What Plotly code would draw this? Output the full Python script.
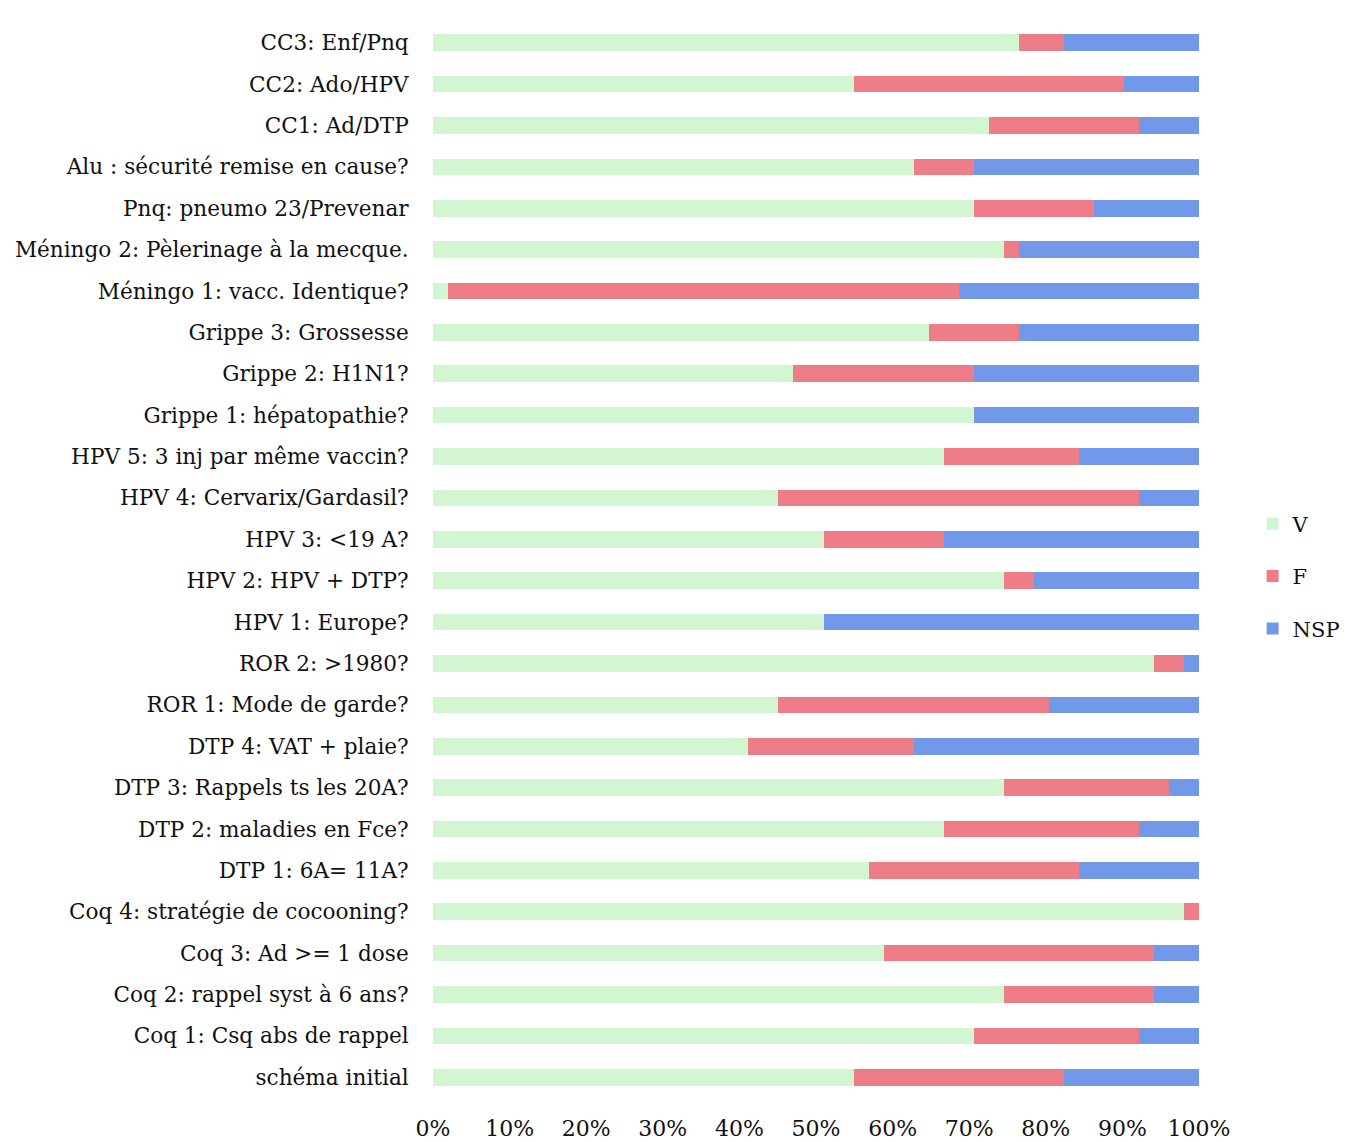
import plotly.graph_objects as go

categories = [
    "schéma initial",
    "Coq 1: Csq abs de rappel",
    "Coq 2: rappel syst à 6 ans?",
    "Coq 3: Ad >= 1 dose",
    "Coq 4: stratégie de cocooning?",
    "DTP 1: 6A= 11A?",
    "DTP 2: maladies en Fce?",
    "DTP 3: Rappels ts les 20A?",
    "DTP 4: VAT + plaie?",
    "ROR 1: Mode de garde?",
    "ROR 2: >1980?",
    "HPV 1: Europe?",
    "HPV 2: HPV + DTP?",
    "HPV 3: <19 A?",
    "HPV 4: Cervarix/Gardasil?",
    "HPV 5: 3 inj par même vaccin?",
    "Grippe 1: hépatopathie?",
    "Grippe 2: H1N1?",
    "Grippe 3: Grossesse",
    "Méningo 1: vacc. Identique?",
    "Méningo 2: Pèlerinage à la mecque.",
    "Pnq: pneumo 23/Prevenar",
    "Alu : sécurité remise en cause?",
    "CC1: Ad/DTP",
    "CC2: Ado/HPV",
    "CC3: Enf/Pnq",
]

# counts of answers (51 respondents)
v_counts = [28, 36, 38, 30, 50, 29, 34, 38, 21, 23, 48, 26, 38, 26, 23, 34, 36, 24, 33, 1, 38, 36, 32, 37, 28, 39]
f_counts = [14, 11, 10, 18, 1, 14, 13, 11, 11, 18, 2, 0, 2, 8, 24, 9, 0, 12, 6, 34, 1, 8, 4, 10, 18, 3]
nsp_counts = [9, 4, 3, 3, 0, 8, 4, 2, 19, 10, 1, 25, 11, 17, 4, 8, 15, 15, 12, 16, 12, 7, 15, 4, 5, 9]

tick_vals = [0, 10, 20, 30, 40, 50, 60, 70, 80, 90, 100]
tick_text = ["0%", "10%", "20%", "30%", "40%", "50%", "60%", "70%", "80%", "90%", "100%"]

series = [
    ("V", v_counts, "#d2f5d2"),
    ("F", f_counts, "#ef7d87"),
    ("NSP", nsp_counts, "#7299e9"),
]

FONT = "DejaVu Serif, Liberation Serif, serif"

fig = go.Figure()
for name, vals, color in series:
    fig.add_trace(go.Bar(
        y=categories, x=vals, name=name, orientation="h",
        legendgroup=name,
        marker=dict(color=color, line=dict(width=0)),
    ))

fig.update_layout(
    barmode="stack",
    barnorm="percent",
    bargap=0.6,
    width=1341, height=1134,
    margin=dict(l=425, r=150, t=14, b=44, autoexpand=False),
    paper_bgcolor="white", plot_bgcolor="white",
    font=dict(family=FONT, size=22, color="#111111"),
    legend=dict(x=1.07, y=0.485, xanchor="left", yanchor="middle",
                traceorder="grouped", tracegroupgap=22,
                font=dict(size=21), itemwidth=30,
                bgcolor="rgba(0,0,0,0)"),
    showlegend=True,
)
fig.update_xaxes(range=[0, 100], tickvals=tick_vals, ticktext=tick_text,
                 showgrid=False, zeroline=False, showline=False,
                 ticks="outside", ticklen=11, tickcolor="rgba(0,0,0,0)",
                 tickfont=dict(size=22), automargin=False)
fig.update_yaxes(categoryorder="array", categoryarray=categories,
                 showgrid=False, zeroline=False, showline=False,
                 ticks="outside", ticklen=19, tickcolor="rgba(0,0,0,0)",
                 tickfont=dict(size=21.6), automargin=False)

fig.write_html("out.html")
